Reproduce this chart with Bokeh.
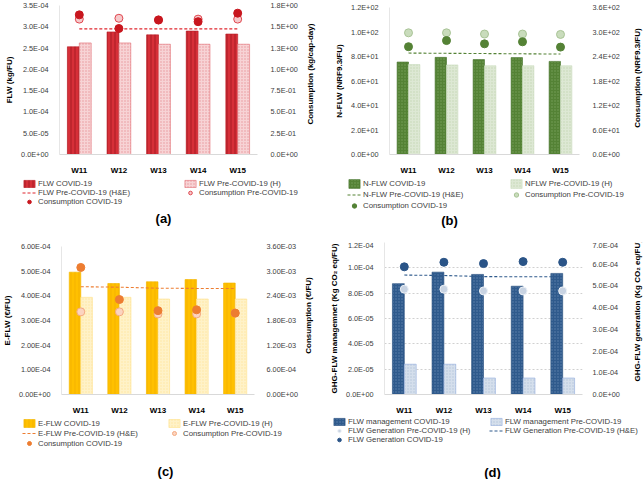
import math
import numpy as np
from bokeh.plotting import figure
from bokeh.models import (Range1d, LinearAxis, FixedTicker, CustomJSTickFormatter,
                          Legend, LegendItem, Label, ColumnDataSource)
from bokeh.transform import dodge
from bokeh.layouts import row, column
from bokeh.embed import file_html
from bokeh.resources import INLINE

FONT = "Liberation Sans"

weeks = ["W11", "W12", "W13", "W14", "W15"]

# (a) FLW (kg/FU) and consumption (kg/cap-day)
a_flw_covid = [2.53e-4, 2.88e-4, 2.81e-4, 2.90e-4, 2.83e-4]
a_flw_pre_h = [2.62e-4, 2.62e-4, 2.59e-4, 2.59e-4, 2.59e-4]
a_flw_pre_he = [2.95e-4, 2.95e-4, 2.95e-4, 2.95e-4, 2.95e-4]
a_cons_covid = [1.64, 1.48, 1.58, 1.56, 1.66]
a_cons_pre = [1.59, 1.60, 1.58, 1.59, 1.59]
a_left_ticks = [0, 5e-5, 1e-4, 1.5e-4, 2e-4, 2.5e-4, 3e-4, 3.5e-4]
a_right_ticks = [0, 0.25, 0.5, 0.75, 1.0, 1.25, 1.5, 1.75]

# (b) N-FLW (NRF9.3/FU)
b_nflw_covid = [75.5, 79.3, 77.5, 79.1, 76.0]
b_nflw_pre_h = [73.4, 73.1, 72.4, 72.4, 72.4]
b_nflw_pre_he = [82.8, 82.6, 82.4, 82.2, 82.0]
b_cons_covid = [264, 279, 271, 276, 263]
b_cons_pre = [298, 298, 295, 295, 294]
b_left_ticks = [0, 20, 40, 60, 80, 100, 120]
b_right_ticks = [0, 60, 120, 180, 240, 300, 360]

# (c) E-FLW (EUR/FU)
c_eflw_covid = [4.96e-4, 4.50e-4, 4.57e-4, 4.66e-4, 4.52e-4]
c_eflw_pre_h = [3.94e-4, 3.94e-4, 3.87e-4, 3.87e-4, 3.87e-4]
c_eflw_pre_he = [4.37e-4, 4.35e-4, 4.31e-4, 4.30e-4, 4.30e-4]
c_cons_covid = [3.09e-3, 2.31e-3, 2.04e-3, 2.06e-3, 1.98e-3]
c_cons_pre = [2.01e-3, 2.01e-3, 1.96e-3, 1.96e-3, 1.98e-3]
c_left_ticks = [0, 1e-4, 2e-4, 3e-4, 4e-4, 5e-4, 6e-4]
c_right_ticks = [0, 6e-4, 1.2e-3, 1.8e-3, 2.4e-3, 3.0e-3, 3.6e-3]

# (d) GHG-FLW
d_mgmt_covid = [8.75e-5, 9.66e-5, 9.48e-5, 8.55e-5, 9.56e-5]
d_mgmt_pre = [2.39e-5, 2.39e-5, 1.30e-5, 1.30e-5, 1.30e-5]
d_gen_covid = [5.88e-4, 6.09e-4, 6.03e-4, 6.12e-4, 6.09e-4]
d_gen_pre_h = [4.85e-4, 4.85e-4, 4.77e-4, 4.77e-4, 4.77e-4]
d_gen_pre_he = [5.50e-4, 5.48e-4, 5.43e-4, 5.42e-4, 5.42e-4]
d_left_ticks = [0, 2e-5, 4e-5, 6e-5, 8e-5, 1e-4, 1.2e-4]
d_right_ticks = [0, 1e-4, 2e-4, 3e-4, 4e-4, 5e-4, 6e-4, 7e-4]

MAIN_W, STRIP_W, MAIN_H = 300, 22, 177


def fmt(dec):
    return CustomJSTickFormatter(args=dict(d=dec), code="""
        const s = tick.toExponential(d);
        const parts = s.split('e');
        const n = parseInt(parts[1]);
        return parts[0] + 'E' + (n < 0 ? '-' : '+') + String(Math.abs(n)).padStart(2, '0');
    """)


def style_axis(ax, label, dec, ticks, standoff):
    ax.ticker = FixedTicker(ticks=ticks)
    ax.formatter = fmt(dec)
    ax.axis_label = label
    ax.axis_label_text_font = FONT
    ax.axis_label_text_font_size = "8px"
    ax.axis_label_text_font_style = "bold"
    ax.axis_label_text_color = "#000000"
    ax.axis_label_standoff = 4
    ax.major_label_text_font = FONT
    ax.major_label_text_font_size = "7.3px"
    ax.major_label_text_color = "#404040"
    ax.major_tick_line_color = None
    ax.minor_tick_line_color = None
    ax.major_label_standoff = standoff


def blank_fig(w, h, xr, yr):
    f = figure(width=w, height=h, x_range=xr, y_range=yr,
               x_axis_type=None, y_axis_type=None,
               output_backend="svg", toolbar_location=None,
               min_border=0, min_border_left=0, min_border_right=0,
               min_border_top=0, min_border_bottom=0)
    f.title.visible = False
    f.outline_line_color = None
    f.xgrid.grid_line_color = None
    f.ygrid.grid_line_color = None
    return f


def add_styles(p, c, src, x1, x2, xl, xs, main):
    b1 = p.vbar(x=x1, top="covid", width=0.3, source=src,
                fill_color=c["c1"], line_color=c["c1l"], line_width=0.6,
                hatch_pattern=c["h1"], hatch_color=c["c1h"], hatch_scale=c["hs1"], hatch_weight=1)
    b2 = p.vbar(x=x2, top="pre", width=0.3, source=src,
                fill_color=c["c2"], line_color=c["c2l"], line_width=0.6,
                hatch_pattern="dot", hatch_color=c["c2h"], hatch_scale=3, hatch_weight=1)
    ln = p.line(x=xl, y="he", source=src, y_range_name=c["he_range"] if main else "default",
                line_color=c["lc"], line_width=1.1, line_dash="3 2")
    rn = "r" if main else "default"
    dp = p.scatter(x=xs, y="rp", source=src, y_range_name=rn,
                   size=8, fill_color=c["dp"], line_color=c["dpl"], line_width=1)
    dc = p.scatter(x=xs, y="rc", source=src, y_range_name=rn,
                   size=8, fill_color=c["dc"], line_color=c["dc"], line_width=1)
    return {"b1": b1, "b2": b2, "ln": ln, "dp": dp, "dc": dc}


def panel(c, total_h):
    leg_h = total_h - MAIN_H
    # main chart
    p = figure(width=MAIN_W, height=MAIN_H, x_range=weeks,
               y_range=Range1d(0, c["lt"][-1]),
               output_backend="svg", toolbar_location=None,
               min_border_left=c["bl"], min_border_right=c["br"],
               min_border_top=c["bt"], min_border_bottom=c["bb"])
    p.title.visible = False
    p.outline_line_color = None
    p.extra_y_ranges = {"r": Range1d(0, c["rt"][-1])}

    src = ColumnDataSource(dict(week=weeks, covid=c["covid"], pre=c["pre"], he=c["he"],
                                rc=c["rc"], rp=c["rp"]))
    add_styles(p, c, src, dodge("week", -0.15, range=p.x_range),
               dodge("week", 0.15, range=p.x_range), "week", "week", True)

    style_axis(p.yaxis[0], c["ylabel"], c["dec"], c["lt"], 5)
    p.yaxis[0].axis_line_color = "#e6e6e6"
    rax = LinearAxis(y_range_name="r")
    style_axis(rax, "", c["dec"], c["rt"], c["rso"])
    rax.axis_line_color = None
    p.add_layout(rax, "right")

    xa = p.xaxis[0]
    xa.major_label_text_font = FONT
    xa.major_label_text_font_size = "8px"
    xa.major_label_text_font_style = "bold"
    xa.major_label_text_color = "#000000"
    xa.major_tick_line_color = None
    xa.minor_tick_line_color = None
    xa.axis_line_color = "#d9d9d9"
    xa.major_label_standoff = 5

    p.xgrid.grid_line_color = None
    if c["grid"]:
        p.ygrid.ticker = FixedTicker(ticks=c["lt"])
        p.ygrid.grid_line_color = "#d0d0d0"
        p.ygrid.grid_line_dash = "2 2"
    else:
        p.ygrid.grid_line_color = None

    # right axis title strip
    s = blank_fig(STRIP_W, MAIN_H, Range1d(0, STRIP_W), Range1d(MAIN_H, 0))
    s.add_layout(Label(x=c["rx"], y=c["bt"] + (MAIN_H - c["bt"] - c["bb"]) / 2,
                       text=c["rlabel"], angle=math.pi / 2, angle_units="rad",
                       text_align="center", text_baseline="middle",
                       text_font=FONT, text_font_size="8px", text_font_style="bold",
                       text_color="#000000"))

    # legend + panel tag
    g = blank_fig(MAIN_W + STRIP_W, leg_h, Range1d(0, MAIN_W + STRIP_W), Range1d(leg_h, 0))
    nan = np.array([np.nan])
    proxy = ColumnDataSource(dict(x=nan, covid=nan, pre=nan, he=nan, rc=nan, rp=nan))
    rmap = add_styles(g, c, proxy, "x", "x", "x", "x", False)
    rh = c["rh"]
    for key, lx in (("leg1", c["lx1"]), ("leg2", c["lx2"])):
        items = [LegendItem(label=lab, renderers=[rmap[k]]) for k, lab in c[key]]
        g.add_layout(Legend(items=items, location=(lx, leg_h - c["ltop"] - rh * len(items)),
                            orientation="vertical",
                            label_text_font=FONT, label_text_font_size="7.8px",
                            label_text_color="#404040",
                            glyph_width=14, glyph_height=rh, label_height=rh, label_standoff=2,
                            spacing=0, padding=0, margin=0, border_line_color=None,
                            background_fill_alpha=0))
    g.add_layout(Label(x=c["tx"], y=c["ty"], text=c["tag"], text_align="center",
                       text_baseline="middle", text_font=FONT, text_font_size="13px",
                       text_font_style="bold", text_color="#000000"))
    return column(row(p, s, spacing=0), g, spacing=0)


pa = panel(dict(
    covid=a_flw_covid, pre=a_flw_pre_h, he=a_flw_pre_he, rc=a_cons_covid, rp=a_cons_pre,
    lt=a_left_ticks, rt=a_right_ticks, dec=1, he_range="default",
    ylabel="FLW (kg/FU)", rlabel="Consumption (kg/cap-day)",
    c1="#d62f38", c1l="#b81f27", c1h="#a81c24", h1="vertical_line", hs1=4,
    c2="#f7d3d5", c2l="#e06a70", c2h="#e8959a",
    lc="#e0262e", dc="#c8161e", dp="#f6c9cb", dpl="#e0474f",
    grid=False, bl=59, br=40, bt=5, bb=19, rso=7, rx=10, tag="(a)",
    rh=9, ltop=2, lx1=22, lx2=183, tx=163, ty=41,
    leg1=[("b1", "FLW COVID-19"), ("ln", "FLW Pre-COVID-19 (H&E)"),
          ("dc", "Consumption COVID-19")],
    leg2=[("b2", "FLW Pre-COVID-19 (H)"), ("dp", "Consumption Pre-COVID-19")]), 240)

pb = panel(dict(
    covid=b_nflw_covid, pre=b_nflw_pre_h, he=b_nflw_pre_he, rc=b_cons_covid, rp=b_cons_pre,
    lt=b_left_ticks, rt=b_right_ticks, dec=1, he_range="default",
    ylabel="N-FLW (NRF9.3/FU)", rlabel="Consumption (NRF9.3/FU)",
    c1="#548235", c1l="#4a7530", c1h="#78a05a", h1="dot", hs1=3,
    c2="#dde8d4", c2l="#c9dbbd", c2h="#c2d6b4",
    lc="#548235", dc="#548235", dp="#c9dcbc", dpl="#a9c496",
    grid=False, bl=67, br=40, bt=7, bb=14, rso=7, rx=15, tag="(b)",
    rh=11, ltop=1, lx1=25, lx2=187, tx=127, ty=43,
    leg1=[("b1", "N-FLW COVID-19"), ("ln", "N-FLW Pre-COVID-19 (H&E)"),
          ("dc", "Consumption COVID-19")],
    leg2=[("b2", "NFLW Pre-COVID-19 (H)"), ("dp", "Consumption Pre-COVID-19")]), 240)

pc = panel(dict(
    covid=c_eflw_covid, pre=c_eflw_pre_h, he=c_eflw_pre_he, rc=c_cons_covid, rp=c_cons_pre,
    lt=c_left_ticks, rt=c_right_ticks, dec=2, he_range="default",
    ylabel="E-FLW (€/FU)", rlabel="Consumption (€/FU)",
    c1="#ffc000", c1l="#f2b600", c1h="#f5b300", h1="vertical_line", hs1=4,
    c2="#fff2c8", c2l="#ffe08a", c2h="#ffe6a0",
    lc="#ed7d31", dc="#ed7d31", dp="#fbd4c0", dpl="#f4a97f",
    grid=False, bl=57, br=40, bt=6, bb=18, rso=6, rx=8, tag="(c)",
    rh=10, ltop=1, lx1=22, lx2=167, tx=165, ty=54,
    leg1=[("b1", "E-FLW COVID-19"), ("ln", "E-FLW Pre-COVID-19 (H&E)"),
          ("dc", "Consumption COVID-19")],
    leg2=[("b2", "E-FLW Pre-COVID-19 (H)"), ("dp", "Consumption Pre-COVID-19")]), 239)

pd_ = panel(dict(
    covid=d_mgmt_covid, pre=d_mgmt_pre, he=d_gen_pre_he, rc=d_gen_covid, rp=d_gen_pre_h,
    lt=d_left_ticks, rt=d_right_ticks, dec=1, he_range="r",
    ylabel="GHG-FLW managemnet (Kg CO₂ eq/FU)", rlabel="GHG-FLW generation (Kg CO₂ eq/FU)",
    c1="#2f5a8c", c1l="#2a5080", c1h="#5d82ad", h1="dot", hs1=3,
    c2="#d5dfec", c2l="#8faadc", c2h="#b4c5da",
    lc="#2f5a8c", dc="#2a5487", dp="#c8d3e2", dpl="#eef2f7",
    grid=True, bl=62, br=32, bt=2, bb=20, rso=4, rx=15, tag="(d)",
    rh=9, ltop=0, lx1=10, lx2=167, tx=170, ty=55,
    leg1=[("b1", "FLW management COVID-19"), ("dp", "FLW Generation Pre-COVID-19 (H)"),
          ("dc", "FLW Generation COVID-19")],
    leg2=[("b2", "FLW management Pre-COVID-19"), ("ln", "FLW Generation Pre-COVID-19 (H&E)")]),
    239)

layout = column(row(pa, pb, spacing=0), row(pc, pd_, spacing=0), spacing=0)

with open("out.html", "w") as f:
    f.write(file_html(layout, INLINE))
